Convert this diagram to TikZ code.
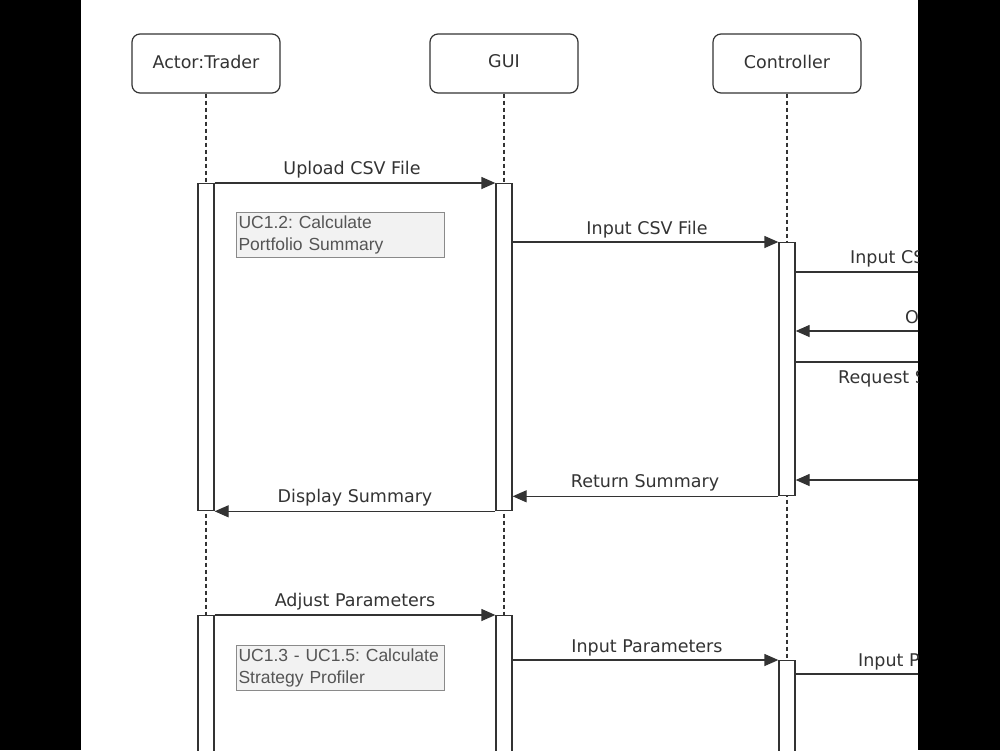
\documentclass[tikz,border=0pt]{standalone}
\usepackage{fontspec}
\setmainfont{DejaVu Sans}
\newfontfamily\notefont{Liberation Sans}
\usetikzlibrary{arrows.meta,calc}
\frenchspacing
\definecolor{ink}{HTML}{333333}
\definecolor{notefill}{HTML}{F2F2F2}
\definecolor{noteline}{HTML}{8A8A8A}
\definecolor{notetext}{HTML}{555555}
\tikzset{
  head/.style={draw=ink, line width=1.2pt, rounded corners=8pt, fill=white,
    minimum width=148pt, minimum height=59pt, inner sep=0pt, text depth=4pt,
    font=\fontsize{17.5}{20}\selectfont, text=ink},
  life/.style={draw=ink, line width=1.1pt, dash pattern=on 4pt off 3pt},
  bar/.style={draw=ink, line width=1.3pt, fill=white, minimum width=16pt, inner sep=0pt, anchor=north},
  msg/.style={draw=ink, line width=1.3pt, -{Triangle[length=14pt,width=12pt]}},
  plainmsg/.style={draw=ink, line width=1.3pt},
  lbl/.style={font=\fontsize{17.5}{20}\selectfont, text=ink, inner sep=0pt},
  note/.style={draw=noteline, line width=1pt, fill=notefill, text=notetext,
    minimum width=208pt, minimum height=45pt, inner sep=2pt, anchor=north west,
    align=left, text width=204pt, font=\notefont\fontsize{17.5}{22}\selectfont}
}
\begin{document}
\begin{tikzpicture}[x=1pt,y=-1pt]
\useasboundingbox (0,0) rectangle (1000,750);
\fill[black] (0,0) rectangle (1000,750);
\fill[white] (81,0) rectangle (918,750);
\begin{scope}
\clip (81,0) rectangle (918,750);
\coordinate (edge) at (930,0);
\coordinate (bottom) at (0,760);
% headers
\node[head] (actor) at (206,63.5) {Actor:Trader};
\node[head] (gui) at (504,63.5) {GUI};
\node[head] (ctrl) at (787,63.5) {Controller};
% lifelines
\draw[life] (actor.south) -- (actor.south |- bottom);
\draw[life] (gui.south) -- (gui.south |- bottom);
\draw[life] (ctrl.south) -- (ctrl.south |- bottom);
% activation bars
\node[bar, minimum height=327pt] (a1) at (206,183) {};
\node[bar, minimum height=327pt] (g1) at (504,183) {};
\node[bar, minimum height=253pt] (c1) at (787,242) {};
\node[bar, minimum height=160pt] (a2) at (206,615) {};
\node[bar, minimum height=160pt] (g2) at (504,615) {};
\node[bar, minimum height=120pt] (c2) at (787,660) {};
% messages
\draw[msg] (a1.north east) -- (g1.north west);
\node[lbl] (m1) at (352,169.5) {Upload CSV File};
\draw[msg] (g1.east |- c1.north) -- (c1.north west);
\node[lbl] (m2) at (647,229.5) {Input CSV File};
\draw[plainmsg] ($(c1.north east)+(0,30)$) -- (edge |- {$(c1.north east)+(0,30)$});
\node[lbl, anchor=west] (m3) at (850,258.5) {Input CSV File};
\coordinate (o1) at (930,331);
\draw[msg] (o1) -- (c1.east |- o1);
\node[lbl, anchor=west] (m4) at (905,318.5) {Output};
\coordinate (r1) at (930,362);
\draw[plainmsg] (c1.east |- r1) -- (r1);
\node[lbl, anchor=west] (m5) at (838,378.5) {Request Summary};
\coordinate (s1) at (930,480);
\draw[msg] (s1) -- (c1.east |- s1);
\draw[msg] (c1.south west) -- (g1.east |- c1.south);
\node[lbl] (m6) at (645,482.5) {Return Summary};
\draw[msg] (g1.south west) -- (a1.south east);
\node[lbl] (m7) at (355,497.5) {Display Summary};
\draw[msg] (a2.north east) -- (g2.north west);
\node[lbl] (m8) at (355,601.5) {Adjust Parameters};
\draw[msg] (g2.east |- c2.north) -- (c2.north west);
\node[lbl] (m9) at (647,647.5) {Input Parameters};
\coordinate (p1) at (930,674);
\draw[plainmsg] (c2.east |- p1) -- (p1);
\node[lbl, anchor=west] (m10) at (858,661.5) {Input Parameters};
% notes
\node[note] (n1) at (236,212) {UC1.2: Calculate\\Portfolio Summary};
\node[note] (n2) at (236,645) {UC1.3 - UC1.5: Calculate\\Strategy Profiler};
\end{scope}
\end{tikzpicture}
\end{document}
